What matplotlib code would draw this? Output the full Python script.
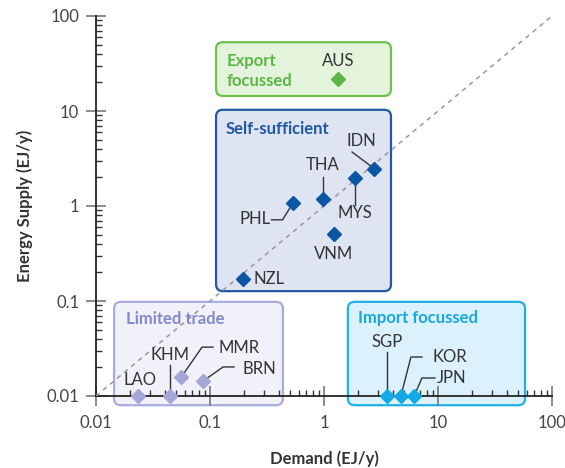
import matplotlib
matplotlib.use("Agg")
import matplotlib.pyplot as plt
import numpy as np
from matplotlib.patches import FancyBboxPatch
from matplotlib.ticker import LogLocator, NullFormatter

plt.rcParams['font.family'] = ['Lato', 'DejaVu Sans']

# energy demand / supply by country (EJ/y)
countries = ['AUS', 'IDN', 'MYS', 'THA', 'PHL', 'VNM', 'NZL',
             'LAO', 'KHM', 'MMR', 'BRN', 'SGP', 'KOR', 'JPN']
demand = [1.33, 2.75, 1.87, 0.98, 0.53, 1.22, 0.195,
          0.0233, 0.0446, 0.0557, 0.087, 3.57, 4.73, 6.15]
supply = [21.7, 2.45, 1.97, 1.19, 1.08, 0.51, 0.17,
          0.01, 0.01, 0.0158, 0.0144, 0.01, 0.01, 0.01]
group = ['export', 'self', 'self', 'self', 'self', 'self', 'self',
         'limited', 'limited', 'limited', 'limited', 'import', 'import', 'import']

# group boxes: title, x range, y range (data units)
groups = {
    'export': ('Export\nfocussed', (0.113, 3.87), (14.4, 53)),
    'self': ('Self-sufficient', (0.113, 3.87), (0.127, 10.3)),
    'limited': ('Limited trade', (0.0144, 0.436), (0.008, 0.098)),
    'import': ('Import focussed', (1.62, 58), (0.008, 0.098)),
}

colors = {
    'export': dict(edge='#6cc24a', face='#e4f3dc', mark='#5cb646', title='#5cb646'),
    'self': dict(edge='#1d5aa3', face='#dfe4f3', mark='#0a56a4', title='#1d5aa3'),
    'limited': dict(edge='#a9acdc', face='#f1f1f9', mark='#a3a6d6', title='#8489cb'),
    'import': dict(edge='#1fb0e6', face='#dbf1fb', mark='#13a9e4', title='#1aa6de'),
}

# label placement: text offset (px), alignment, leader line offsets (px)
labels = {
    'AUS': ((0, 18), 'center', None),
    'IDN': ((-13, 28), 'center', [(-22, 17), (-2, 2)]),
    'THA': ((0, 34), 'center', [(0, 22), (0, 3)]),
    'MYS': ((0, -35), 'center', [(0, -3), (0, -27)]),
    'PHL': ((-38, -16), 'center', [(-21, -17), (-10, -17), (-2, -4)]),
    'VNM': ((0, -20), 'center', None),
    'NZL': ((10, 0), 'left', None),
    'LAO': ((2, 16), 'center', None),
    'KHM': ((0, 41), 'center', [(0, 31), (0, 3)]),
    'MMR': ((37, 29), 'left', [(3, 4), (21, 30), (32, 30)]),
    'BRN': ((39, 12), 'left', [(3, 2), (20, 14), (31, 14)]),
    'SGP': ((0, 54), 'center', [(0, 44), (0, 3)]),
    'KOR': ((32, 39), 'left', [(1, 4), (10, 39), (21, 39)]),
    'JPN': ((23, 18), 'left', [(2, 4), (8, 18), (21, 18)]),
}

W, H = 565, 468
fig = plt.figure(figsize=(W / 100, H / 100), dpi=100)
ax = fig.add_axes([96 / W, 1 - 396 / H, 456 / W, 380 / H])
ax.set_xscale('log')
ax.set_yscale('log')
ax.set_xlim(0.01, 100)
ax.set_ylim(0.01, 100)

for s in ['top', 'right']:
    ax.spines[s].set_visible(False)
for s in ['left', 'bottom']:
    ax.spines[s].set_color('#222222')
    ax.spines[s].set_linewidth(1.3)

ax.xaxis.set_minor_locator(LogLocator(base=10, subs=np.arange(2, 10)))
ax.yaxis.set_minor_locator(LogLocator(base=10, subs=np.arange(2, 10)))
ax.xaxis.set_minor_formatter(NullFormatter())
ax.yaxis.set_minor_formatter(NullFormatter())
ticks = [0.01, 0.1, 1, 10, 100]
tick_labels = ['0.01', '0.1', '1', '10', '100']
ax.set_xticks(ticks, tick_labels)
ax.set_yticks(ticks, tick_labels)
ax.tick_params(which='major', direction='inout', length=14, width=1.2,
               color='#777777', labelsize=12, labelcolor='#444444', pad=5)
ax.tick_params(axis='x', which='major', pad=7)
ax.tick_params(which='minor', direction='in', length=4, width=1, color='#333333')

fig.text(324 / W, 1 - 459 / H, 'Demand (EJ/y)', ha='center', va='center',
         fontsize=12, fontweight='bold', color='#333333')
fig.text(25 / W, 1 - 206 / H, 'Energy Supply (EJ/y)', ha='center', va='center',
         rotation=90, fontsize=12, fontweight='bold', color='#333333')

# 1:1 line
ax.plot([0.01, 100], [0.01, 100], ls=(0, (3, 3)), color='#999999', lw=1.1, zorder=3)

to_axes = lambda p: ax.transAxes.inverted().transform(ax.transData.transform(p))
aspect = 456 / 380
for key, (title, xr, yr) in groups.items():
    c = colors[key]
    x0, y0 = to_axes((xr[0], yr[0]))
    x1, y1 = to_axes((xr[1], yr[1]))
    box = FancyBboxPatch((x0, y0), x1 - x0, y1 - y0,
                         boxstyle='round,pad=0,rounding_size=0.015',
                         mutation_aspect=aspect, transform=ax.transAxes,
                         facecolor=c['face'], edgecolor=c['edge'], lw=1.6,
                         clip_on=False, zorder=1)
    ax.add_patch(box)

# group titles
title_pos = {'export': (227, 71, 'left'), 'self': (226, 129, 'left'),
             'limited': (126, 319, 'left'), 'import': (358, 318, 'left')}
for key, (px, py, ha) in title_pos.items():
    fig.text(px / W, 1 - py / H, groups[key][0], ha=ha, va='center',
             fontsize=12, fontweight='bold', color=colors[key]['title'],
             linespacing=1.25)

for name, x, y, g in zip(countries, demand, supply, group):
    ax.plot(x, y, marker='D', ms=7, color=colors[g]['mark'], ls='none',
            zorder=5, clip_on=False)
    (dx, dy), ha, leader = labels[name]
    ax.annotate(name, (x, y), xytext=(dx, dy), textcoords='offset pixels',
                ha=ha, va='center', fontsize=12, color='#333333', zorder=6)
    if leader:
        px, py = ax.transData.transform((x, y))
        lx = [(px + ox) / W for ox, oy in leader]
        ly = [(py + oy) / H for ox, oy in leader]
        ax.plot(lx, ly, color='#333333', lw=1, transform=fig.transFigure,
                zorder=4, clip_on=False)

fig.savefig('out.png', dpi=100)
